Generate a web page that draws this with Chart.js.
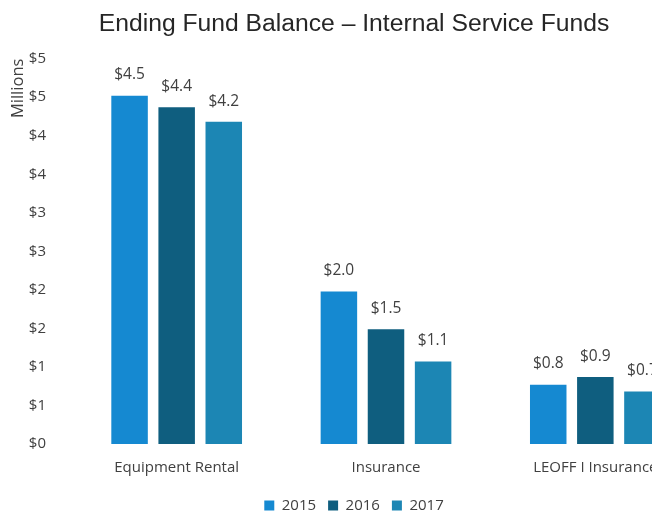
<!DOCTYPE html>
<html>
<head>
<meta charset="utf-8">
<script src="https://cdn.jsdelivr.net/npm/chart.js@4.4.0/dist/chart.umd.min.js"></script>
<style>
  html, body { margin: 0; padding: 0; background: #fff; overflow: hidden; }
  #wrap { width: 652px; height: 514px; overflow: hidden; }
</style>
</head>
<body>
<div id="wrap"><canvas id="fundChart" width="700" height="514"></canvas></div>
<script>
const categories = ['Equipment Rental', 'Insurance', 'LEOFF I Insurance'];
const years = ['2015', '2016', '2017'];
const values2015 = [4.52, 1.98, 0.77];
const values2016 = [4.37, 1.49, 0.87];
const values2017 = [4.18, 1.07, 0.68];
const barColors = ['#1589d1', '#0f5e7f', '#1c86b4'];

// value labels above bars
const valueLabels = {
    id: 'valueLabels',
    afterDatasetsDraw(chart) {
        const ctx = chart.ctx;
        ctx.save();
        ctx.font = '15.5px "Open Sans", sans-serif';
        ctx.fillStyle = '#404040';
        ctx.textAlign = 'center';
        ctx.textBaseline = 'bottom';
        chart.data.datasets.forEach((ds, i) => {
            chart.getDatasetMeta(i).data.forEach((bar, j) => {
                ctx.fillText('$' + ds.data[j].toFixed(1), bar.x, bar.y - 13);
            });
        });
        ctx.restore();
    }
};

const ctx = document.getElementById('fundChart').getContext('2d');
const chart = new Chart(ctx, {
    type: 'bar',
    data: {
        labels: categories,
        datasets: [
            { label: years[0], data: values2015, backgroundColor: barColors[0] },
            { label: years[1], data: values2016, backgroundColor: barColors[1] },
            { label: years[2], data: values2017, backgroundColor: barColors[2] }
        ]
    },
    options: {
        responsive: false,
        animation: false,
        datasets: {
            bar: { categoryPercentage: 0.675, barPercentage: 0.775 }
        },
        layout: { padding: { left: 8, right: 0, top: 4, bottom: -9 } },
        plugins: {
            title: {
                display: true,
                text: 'Ending Fund Balance \u2013 Internal Service Funds',
                color: '#262626',
                font: { family: '"Liberation Sans", Arial, sans-serif', size: 24.7, weight: 'normal' },
                padding: { top: 5, bottom: 20 }
            },
            legend: {
                position: 'bottom',
                labels: {
                    boxWidth: 10,
                    boxHeight: 10,
                    color: '#404040',
                    font: { family: '"Open Sans", sans-serif', size: 15 },
                    padding: 12
                }
            },
            tooltip: { enabled: false }
        },
        scales: {
            x: {
                grid: { display: false },
                border: { display: false },
                afterFit: function(scale) { scale.height += 2; },
                ticks: {
                    color: '#404040',
                    font: { family: '"Open Sans", sans-serif', size: 15 },
                    padding: 7
                }
            },
            y: {
                min: 0,
                max: 5,
                grid: { display: false },
                border: { display: false },
                afterFit: function(scale) { scale.width = 64; },
                title: {
                    display: true,
                    text: 'Millions',
                    align: 'end',
                    color: '#404040',
                    font: { family: '"Open Sans", sans-serif', size: 16.5 },
                    padding: { top: 0, bottom: 0 }
                },
                ticks: {
                    stepSize: 0.5,
                    color: '#404040',
                    font: { family: '"Open Sans", sans-serif', size: 15 },
                    padding: 18,
                    callback: function(value) {
                        return '$' + Math.round(value);
                    }
                }
            }
        }
    },
    plugins: [valueLabels]
});
</script>
</body>
</html>
